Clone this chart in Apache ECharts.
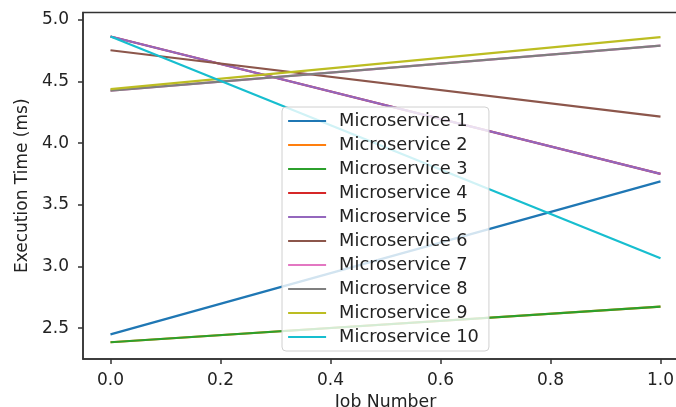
<!DOCTYPE html>
<html><head><meta charset="utf-8">
<script src="https://cdn.jsdelivr.net/npm/echarts@6/dist/echarts.min.js"></script>
<style>html,body{margin:0;padding:0;background:#fff}#c{width:676px;height:407px}</style>
</head><body><div id="c"></div>
<script>
const jobs = [0, 1];
const names = ["Microservice 1","Microservice 2","Microservice 3","Microservice 4","Microservice 5","Microservice 6","Microservice 7","Microservice 8","Microservice 9","Microservice 10"];
const ms1 = [2.45, 3.69];
const ms2 = [2.386, 2.675];
const ms3 = [2.386, 2.675];
const ms4 = [4.865, 3.751];
const ms5 = [4.865, 3.751];
const ms6 = [4.754, 4.216];
const ms7 = [4.427, 4.792];
const ms8 = [4.427, 4.792];
const ms9 = [4.438, 4.86];
const ms10 = [4.865, 3.067];
const values = [ms1, ms2, ms3, ms4, ms5, ms6, ms7, ms8, ms9, ms10];
const xTicks = [0, 0.2, 0.4, 0.6, 0.8, 1.0];
const yTicks = [2.5, 3.0, 3.5, 4.0, 4.5, 5.0];
const colors = ['#1f77b4','#ff7f0e','#2ca02c','#d62728','#9467bd','#8c564b','#e377c2','#7f7f7f','#bcbd22','#17becf'];

const font = 'DejaVu Sans';
const axisCol = '#333';
const chart = echarts.init(document.getElementById('c'));
chart.setOption({
  animation: false,
  color: colors,
  grid: {left: 83, top: 12.5, width: 605, height: 346.5, show: true, borderColor: axisCol, borderWidth: 1.5, containLabel: false, outerBoundsMode: 'none'},
  xAxis: {
    type: 'value', min: -0.05, max: 1.05,
    name: 'Job Number', nameLocation: 'middle', nameGap: 34,
    nameTextStyle: {fontFamily: font, fontSize: 17.3, color: '#222'},
    axisLine: {show: true, onZero: false, lineStyle: {color: axisCol, width: 1.5}},
    axisTick: {show: true, length: 5, inside: false, customValues: xTicks, lineStyle: {color: axisCol, width: 1.5}},
    axisLabel: {show: true, customValues: xTicks, margin: 13, fontFamily: font, fontSize: 17, color: '#222', formatter: v => v.toFixed(1)},
    splitLine: {show: false}
  },
  yAxis: {
    type: 'value', min: 2.25, max: 5.06,
    name: 'Execution Time (ms)', nameLocation: 'middle', nameGap: 50,
    nameTextStyle: {fontFamily: font, fontSize: 17, color: '#222'},
    axisLine: {show: true, onZero: false, lineStyle: {color: axisCol, width: 1.5}},
    axisTick: {show: true, length: 5, customValues: yTicks, lineStyle: {color: axisCol, width: 1.5}},
    axisLabel: {show: true, customValues: yTicks, margin: 14, fontFamily: font, fontSize: 17, color: '#222', formatter: v => v.toFixed(1)},
    splitLine: {show: false}
  },
  legend: {
    orient: 'vertical', left: 282, top: 107,
    data: names,
    itemWidth: 38, itemHeight: 14, itemGap: 6,
    padding: [5, 10, 5, 5],
    backgroundColor: 'rgba(255,255,255,0.8)',
    borderColor: '#d0d0d0', borderWidth: 1, borderRadius: 4,
    textStyle: {fontFamily: font, fontSize: 17.8, color: '#222', padding: [0, 0, 0, 8]},
    itemStyle: {opacity: 0},
    lineStyle: {width: 2.2},
    z: 10
  },
  series: names.map((n, i) => ({
    name: n, type: 'line', symbol: 'none',
    data: jobs.map((x, j) => [x, values[i][j]]),
    lineStyle: {width: 2.2, color: colors[i]},
    itemStyle: {color: colors[i]},
    z: 2 + i * 0.01
  }))
});
</script></body></html>
